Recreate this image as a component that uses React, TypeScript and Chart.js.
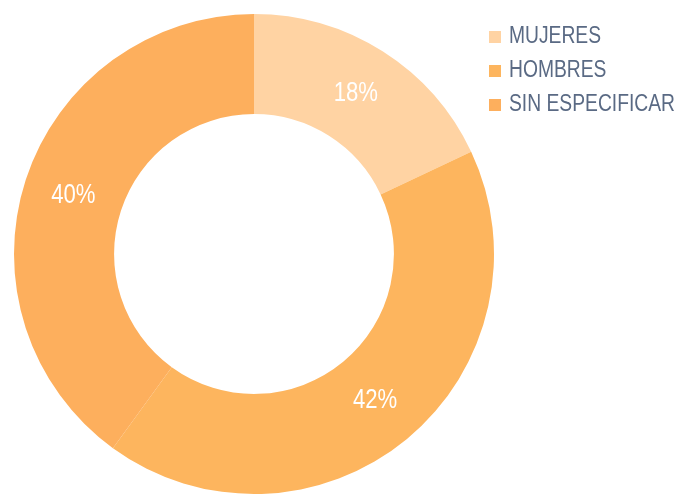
import React, { useEffect, useRef } from "react";
import { Chart, registerables } from "chart.js";

Chart.register(...registerables);

const categories = ["MUJERES", "HOMBRES", "SIN ESPECIFICAR"];
const values = [18, 42, 40];
const valueLabels = ["18%", "42%", "40%"];
const colors = ["#FFD3A3", "#FDB55E", "#FDAF5D"];

const sliceLabelPlugin = {
  id: "sliceLabels",
  afterDatasetsDraw(chart: any) {
    const ctx = chart.ctx;
    const meta = chart.getDatasetMeta(0);
    meta.data.forEach((arc: any, i: number) => {
      const p = arc.tooltipPosition();
      ctx.save();
      ctx.fillStyle = "#ffffff";
      ctx.font = "27px 'Liberation Sans', Arial, sans-serif";
      ctx.textAlign = "center";
      ctx.textBaseline = "middle";
      ctx.translate(p.x, p.y);
      ctx.scale(0.82, 1);
      ctx.fillText(valueLabels[i], 0, 0);
      ctx.restore();
    });
  },
};

export default function App() {
  const ref = useRef<HTMLCanvasElement | null>(null);
  useEffect(() => {
    if (!ref.current) return;
    const chart = new Chart(ref.current, {
      type: "doughnut",
      data: {
        labels: categories,
        datasets: [
          {
            data: values,
            backgroundColor: colors,
            borderWidth: 0,
            hoverOffset: 0,
            offset: 0,
          },
        ],
      },
      options: {
        animation: false,
        responsive: true,
        maintainAspectRatio: false,
        cutout: "58.3%",
        layout: { padding: { left: 14, top: 14, right: 184, bottom: 2 } },
        plugins: {
          legend: { display: false },
          tooltip: { enabled: false },
        },
      },
      plugins: [sliceLabelPlugin],
    });
    return () => chart.destroy();
  }, []);

  return (
    <div
      style={{
        position: "fixed",
        left: 0,
        top: 0,
        width: 678,
        height: 496,
        background: "#ffffff",
        overflow: "hidden",
      }}
    >
      <canvas ref={ref} style={{ position: "absolute", left: 0, top: 0, width: 678, height: 496 }} />
      <div
        style={{
          position: "absolute",
          left: 489,
          top: 18,
          fontFamily: "'Liberation Sans', Arial, sans-serif",
          fontSize: 23.5,
          color: "#5a6a84",
        }}
      >
        {categories.map((c, i) => (
          <div key={c} style={{ display: "flex", alignItems: "center", height: 34, whiteSpace: "nowrap" }}>
            <span
              style={{
                display: "inline-block",
                flex: "0 0 auto",
                width: 12,
                height: 12,
                marginTop: 4,
                marginRight: 8,
                background: colors[i],
              }}
            />
            <span style={{ display: "inline-block", transform: "scaleX(0.82)", transformOrigin: "left center" }}>{c}</span>
          </div>
        ))}
      </div>
    </div>
  );
}
